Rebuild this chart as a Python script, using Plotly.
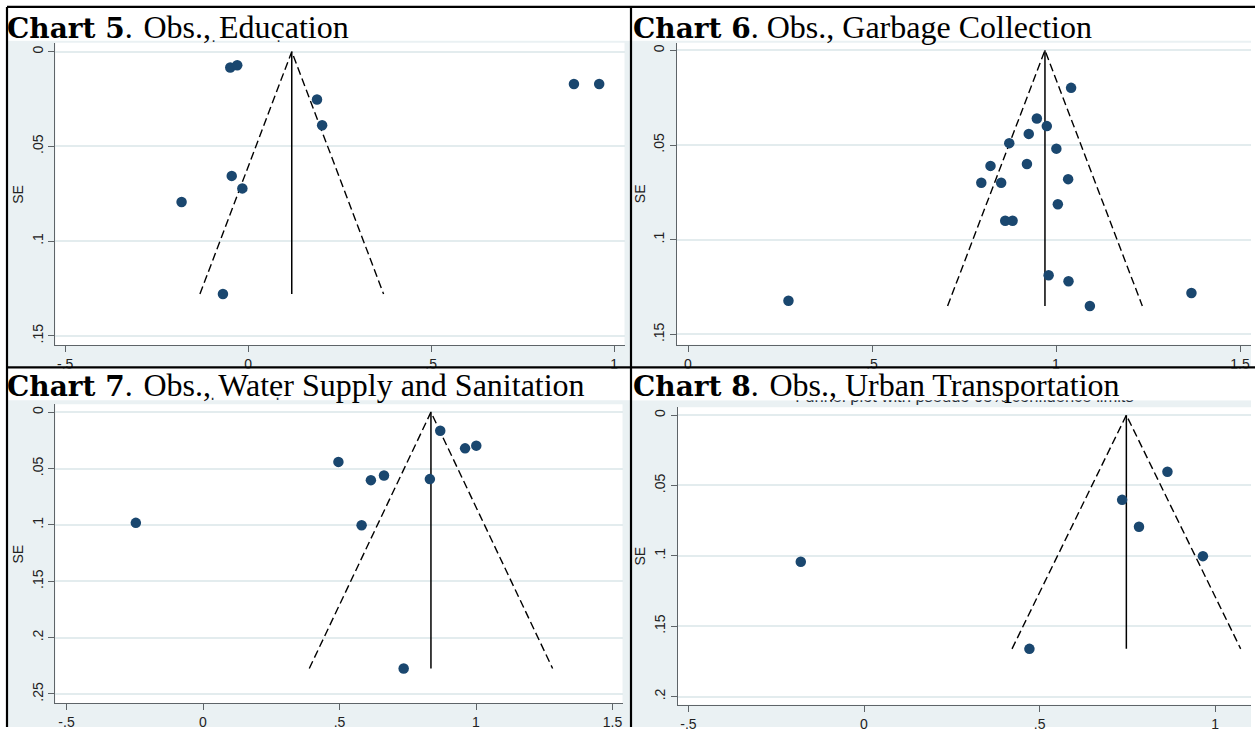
import plotly.graph_objects as go

W, H = 1255, 732

# ---------------- data ----------------
edu_effect = [-0.049, -0.030, 0.890, 0.959, 0.188, 0.202, -0.045, -0.016, -0.182, -0.069]
edu_se = [0.0084, 0.0072, 0.0171, 0.0171, 0.0253, 0.0389, 0.0656, 0.0722, 0.0794, 0.128]
edu_pooled = 0.119

gar_effect = [1.041, 0.948, 0.975, 0.926, 0.873, 1.001, 0.822, 0.921, 0.797, 0.851,
              1.033, 1.005, 0.862, 0.882, 0.980, 1.034, 1.368, 0.273, 1.092]
gar_se = [0.0198, 0.0360, 0.0400, 0.0441, 0.0490, 0.0519, 0.0610, 0.0600, 0.0699, 0.0699,
          0.0680, 0.0813, 0.0900, 0.0900, 0.1187, 0.1219, 0.1281, 0.1322, 0.1350]
gar_pooled = 0.970

wat_effect = [0.869, 0.960, 1.001, 0.496, 0.663, 0.615, 0.831, -0.246, 0.581, 0.735]
wat_se = [0.0165, 0.0321, 0.0297, 0.0441, 0.0562, 0.0603, 0.0594, 0.0982, 0.1003, 0.2274]
wat_pooled = 0.835

trn_effect = [0.864, 0.735, 0.783, 0.965, -0.180, 0.471]
trn_se = [0.0402, 0.0602, 0.0793, 0.1002, 0.1042, 0.1661]
trn_pooled = 0.747

titles_bold = ["Chart 5", "Chart 6", "Chart 7", "Chart 8"]
titles_rest = [". \u200aObs., Education", ". Obs., Garbage Collection",
               ". \u200aObs., Water Supply and Sanitation", ". \u200aObs., Urban Transportation"]

xticks_5 = [-0.5, 0, 0.5, 1]
xticks_6 = [0, 0.5, 1, 1.5]
xticks_7 = [-0.5, 0, 0.5, 1, 1.5]
xticks_8 = [-0.5, 0, 0.5, 1]
yticks_56 = [0, 0.05, 0.1, 0.15]
yticks_7 = [0, 0.05, 0.1, 0.15, 0.2, 0.25]
yticks_8 = [0, 0.05, 0.1, 0.15, 0.2]
stata_title = "Funnel plot with pseudo 95% confidence limits"


def stata_lbl(v):
    s = ("%g" % v)
    if s.startswith("0."):
        s = s[1:]
    elif s.startswith("-0."):
        s = "-" + s[2:]
    return s


# ---------------- layout geometry (pixels) ----------------
panels = [
    dict(eff=edu_effect, se=edu_se, b=edu_pooled, xt=xticks_5, yt=yticks_56,
         region=(8, 630, 41, 369), plot=(55.4, 624.5, 43, 347.5),
         xo=248.2, xs=366.0, yo=52.0, ys=1907.0,
         title_xy=(5, 37), head_top=8, clip_top=40.5, base=39.5, tshift=-14),
    dict(eff=gar_effect, se=gar_se, b=gar_pooled, xt=xticks_6, yt=yticks_56,
         region=(632, 1251, 41, 369), plot=(677, 1251, 43, 347),
         xo=688.0, xs=368.0, yo=50.7, ys=1907.0,
         title_xy=(631, 37), head_top=8, clip_top=None, base=None, tshift=0),
    dict(eff=wat_effect, se=wat_se, b=wat_pooled, xt=xticks_7, yt=yticks_7,
         region=(8, 630, 403, 732), plot=(55.4, 622.5, 407, 708),
         xo=203.0, xs=273.0, yo=415.0, ys=1135.0,
         title_xy=(5, 398), head_top=371, clip_top=400.5, base=399.5, tshift=-14),
    dict(eff=trn_effect, se=trn_se, b=trn_pooled, xt=xticks_8, yt=yticks_8,
         region=(632, 1251, 403, 732), plot=(678, 1251, 410, 709.7),
         xo=864.0, xs=351.2, yo=418.0, ys=1416.7,
         title_xy=(631, 398), head_top=371, clip_top=403, base=404.5, tshift=0),
]

BG = "#EAF1F3"
GRID = "#E3ECEE"
NAVY = "#1A476F"
AXC = "#5E6468"
TICKF = dict(family="Liberation Sans, Arial, sans-serif", size=14, color="#222222")


def fx(px):
    return px / W


def fy(py):
    return 1 - py / H


fig = go.Figure()
shapes = []
covers = []
annotations = []
layout_axes = {}

for i, p in enumerate(panels):
    n = i + 1
    xa = "x" if n == 1 else f"x{n}"
    ya = "y" if n == 1 else f"y{n}"
    x0, x1, y0, y1 = p["plot"]
    rx0, rx1, ry0, ry1 = p["region"]

    # graph region and plot region backgrounds
    shapes.append(dict(type="rect", xref="paper", yref="paper", layer="below",
                       x0=fx(rx0), x1=fx(rx1), y0=fy(ry1), y1=fy(ry0),
                       fillcolor=BG, line=dict(width=0)))
    shapes.append(dict(type="rect", xref="paper", yref="paper", layer="below",
                       x0=fx(x0), x1=fx(x1), y0=fy(y1), y1=fy(y0),
                       fillcolor="white", line=dict(width=0)))

    xr = [(x0 - p["xo"]) / p["xs"], (x1 - p["xo"]) / p["xs"]]
    yr = [(y1 - p["yo"]) / p["ys"], (y0 - p["yo"]) / p["ys"]]

    layout_axes["xaxis" if n == 1 else f"xaxis{n}"] = dict(
        domain=[fx(x0), fx(x1)], range=xr, anchor=ya,
        tickmode="array", tickvals=p["xt"], ticktext=[stata_lbl(v) for v in p["xt"]],
        ticks="outside", ticklen=6, tickwidth=1, tickcolor=AXC,
        showline=True, linecolor=AXC, linewidth=1.2,
        showgrid=False, zeroline=False, tickfont=TICKF, fixedrange=True)
    layout_axes["yaxis" if n == 1 else f"yaxis{n}"] = dict(
        domain=[fy(y1), fy(y0)], range=yr, anchor=xa,
        tickmode="array", tickvals=p["yt"], ticktext=[stata_lbl(v) for v in p["yt"]],
        ticks="outside", ticklen=6, tickwidth=1, tickcolor=AXC, tickangle=-90,
        showline=True, linecolor=AXC, linewidth=1.2,
        showgrid=True, gridcolor=GRID, gridwidth=1.5, zeroline=False,
        tickfont=TICKF, fixedrange=True)

    semax = max(p["se"])
    b = p["b"]
    # funnel: pseudo 95% limits
    fig.add_trace(go.Scatter(x=[b - 1.96 * semax, b, b + 1.96 * semax], y=[semax, 0, semax],
                             mode="lines", line=dict(color="black", width=1.4, dash="8px,4px"),
                             xaxis=xa, yaxis=ya, showlegend=False, hoverinfo="skip"))
    fig.add_trace(go.Scatter(x=[b, b], y=[0, semax], mode="lines",
                             line=dict(color="black", width=1.5),
                             xaxis=xa, yaxis=ya, showlegend=False, hoverinfo="skip"))
    fig.add_trace(go.Scatter(x=p["eff"], y=p["se"], mode="markers",
                             marker=dict(color=NAVY, size=10.5, line=dict(width=0)),
                             xaxis=xa, yaxis=ya, showlegend=False))

    # SE axis title
    annotations.append(dict(xref="paper", yref="paper", x=fx(x0 - 37.5), y=fy((y0 + y1) / 2),
                            text="SE", textangle=-90, showarrow=False,
                            xanchor="center", yanchor="middle",
                            font=dict(family="Liberation Sans, Arial, sans-serif", size=14, color="#222")))

    # header title
    tx, tb = p["title_xy"]
    annotations.append(dict(
        xref="paper", yref="paper", x=fx(tx), y=fy(tb - 10), xanchor="left", yanchor="middle",
        showarrow=False,
        text=(f"<span style=\"font-family:'DejaVu Serif';font-weight:bold;font-size:28px\">"
              f"{titles_bold[i]}</span>{titles_rest[i]}"),
        font=dict(family="Liberation Serif, Times New Roman, serif", size=32, color="black")))

    # remnant of the original (cropped) Stata title, hidden by the header above clip_top
    if p["clip_top"] is not None:
        m = 10 + n
        dx = f"x{m}"
        dy = f"y{m}"
        ht = p["head_top"]
        bot = p["clip_top"] + 25
        layout_axes[f"xaxis{m}"] = dict(domain=[fx(rx0), fx(rx1)], range=[rx0, rx1],
                                        anchor=dy, visible=False, fixedrange=True)
        layout_axes[f"yaxis{m}"] = dict(domain=[fy(bot), fy(ht)], range=[bot, ht],
                                        anchor=dx, visible=False, fixedrange=True)
        fs = 16.5
        fig.add_trace(go.Scatter(x=[(x0 + x1) / 2 + p["tshift"]], y=[p["base"] - 0.25 * fs],
                                 mode="text", text=[stata_title], textposition="middle center",
                                 textfont=dict(family="Liberation Sans, Arial, sans-serif",
                                               size=fs, color="#1d2a36"),
                                 cliponaxis=True, xaxis=dx, yaxis=dy,
                                 showlegend=False, hoverinfo="skip"))
        covers.append(dict(type="rect", xref="paper", yref="paper", layer="above",
                           x0=fx(rx0), x1=fx(rx1), y0=fy(p["clip_top"]), y1=fy(ht),
                           fillcolor="white", line=dict(width=0)))

shapes.extend(covers)

# table borders
for (a, bb, c, d) in [(7, 7, 1255, 7), (7, 370, 1255, 370), (7, 7, 7, 732), (631, 7, 631, 732)]:
    shapes.append(dict(type="line", xref="paper", yref="paper", layer="above",
                       x0=fx(a), y0=fy(bb), x1=fx(c), y1=fy(d),
                       line=dict(color="black", width=2.2)))

fig.update_layout(width=W, height=H, margin=dict(l=0, r=0, t=0, b=0),
                  paper_bgcolor="white", plot_bgcolor="rgba(0,0,0,0)",
                  shapes=shapes, annotations=annotations, showlegend=False,
                  **layout_axes)

fig.write_html("out.html", config={"displayModeBar": False, "staticPlot": False},
               post_script="document.body.style.margin='0px';"
                           "document.body.style.overflow='hidden';")
